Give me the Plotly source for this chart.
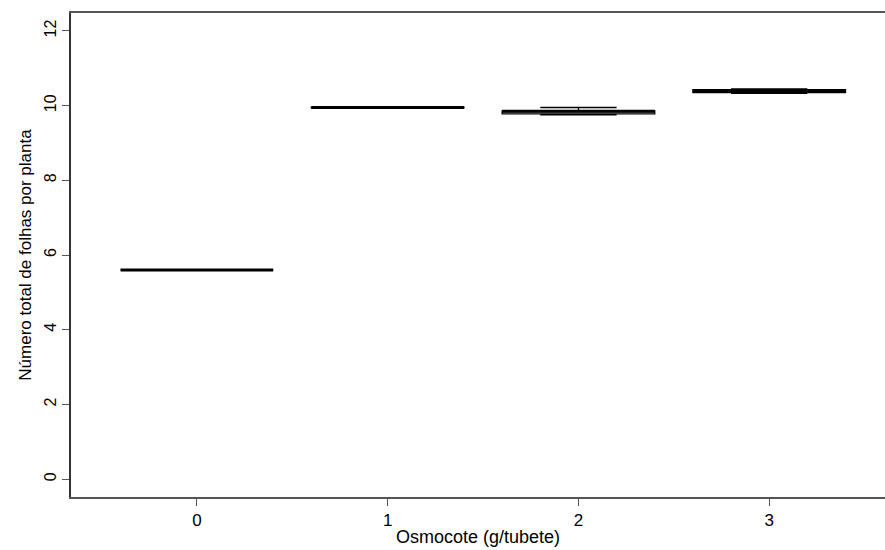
import plotly.graph_objects as go

categories = [0, 1, 2, 3]
tick_labels = ["0", "1", "2", "3"]
lower_whisker = [5.60, 9.94, 9.75, 10.33]
q1 = [5.60, 9.94, 9.78, 10.35]
median = [5.60, 9.95, 9.85, 10.40]
q3 = [5.60, 9.96, 9.86, 10.43]
upper_whisker = [5.60, 9.96, 9.95, 10.45]
y_ticks = [0, 2, 4, 6, 8, 10, 12]

font_family = "Liberation Sans, Arial, sans-serif"
box_half = 0.4

fig = go.Figure()
fig.add_trace(go.Box(
    x=categories,
    q1=q1, median=median, q3=q3,
    lowerfence=lower_whisker, upperfence=upper_whisker,
    fillcolor="white",
    line=dict(color="black", width=1.3),
    whiskerwidth=0.5,
    width=0.8,
    boxpoints=False,
    showlegend=False,
    hoverinfo="skip",
))

# thick median lines (R style)
mx, my = [], []
for c, m in zip(categories, median):
    mx += [c - box_half, c + box_half, None]
    my += [m, m, None]
fig.add_trace(go.Scatter(x=mx, y=my, mode="lines",
                         line=dict(color="black", width=3),
                         showlegend=False, hoverinfo="skip"))

fig.update_layout(
    width=885, height=550,
    margin=dict(l=71, r=0, t=13, b=53),
    paper_bgcolor="white", plot_bgcolor="white",
    font=dict(family=font_family, size=16, color="black"),
)
fig.update_xaxes(
    range=[-0.66, 3.607],
    tickmode="array", tickvals=categories, ticktext=tick_labels,
    showline=True, mirror=True, linecolor="#555555", linewidth=1.5,
    ticks="outside", ticklen=7, tickcolor="#555555",
    showgrid=False, zeroline=False,
    tickfont=dict(size=17),
    title=dict(text="Osmocote (g/tubete)", standoff=1, font=dict(size=18)),
)
fig.update_yaxes(
    range=[-0.48, 12.48],
    tickmode="array", tickvals=y_ticks,
    showline=True, linecolor="#333333", linewidth=1.5,
    ticks="outside", ticklen=7, tickcolor="#555555",
    showgrid=False, zeroline=False,
    tickangle=-90,
    tickfont=dict(size=16),
    title=dict(text="Número total de folhas por planta", standoff=6, font=dict(size=17)),
)

fig.write_html("out.html")
